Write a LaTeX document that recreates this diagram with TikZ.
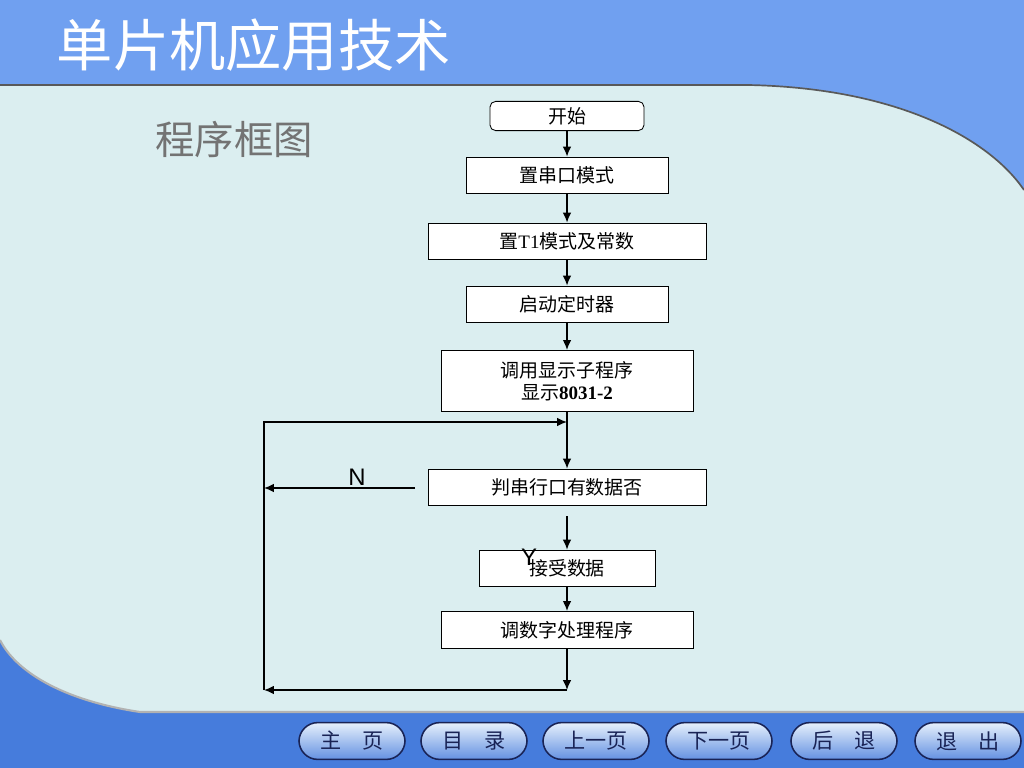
\documentclass[tikz,border=0pt]{standalone}
\usepackage{fontspec}
\setmainfont{Liberation Serif}
\setsansfont{Liberation Sans}
\newfontfamily\cjk{Noto Sans CJK SC}
\usetikzlibrary{arrows.meta, positioning}

\definecolor{topblue}{RGB}{112,160,240}
\definecolor{lowblue}{RGB}{70,124,220}
\definecolor{pagebg}{RGB}{219,238,240}
\definecolor{btnline}{RGB}{25,35,85}

\tikzset{
  flowbox/.style={draw, fill=white, line width=0.6pt, minimum height=0.9cm,
                  font=\fontsize{13.5}{16}\selectfont\cjk, align=center},
  arr/.style={-{Latex[length=7pt,width=6pt]}, line width=0.9pt},
  btn/.style={draw=btnline, line width=1.1pt, rounded corners=0.47cm,
              top color={rgb,255:red,230;green,240;blue,252},
              bottom color={rgb,255:red,100;green,145;blue,225},
              minimum width=2.65cm, minimum height=0.92cm,
              font=\fontsize{15}{18}\selectfont\cjk, text=btnline},
  yn/.style={font=\fontsize{17}{20}\selectfont\sffamily}
}

\begin{document}
\begin{tikzpicture}[x=0.025cm, y=-0.025cm]
  \useasboundingbox (0,0) rectangle (1024,768);

  % background of the slide
  \fill[lowblue] (0,0) rectangle (1024,768);
  \fill[topblue] (0,0) rectangle (1024,200);
  \fill[pagebg] (0,85) -- (748,85) .. controls (900,88) and (990,140) .. (1024,190)
      -- (1024,712) -- (140,712) .. controls (60,700) and (15,670) .. (0,640) -- cycle;
  \draw[gray!70!black, line width=1.2pt] (0,85) -- (748,85)
      .. controls (900,88) and (990,140) .. (1024,190);
  \draw[gray!60, line width=1.5pt] (0,640) .. controls (15,670) and (60,700) .. (140,712) -- (1024,712);

  \node[white, font=\fontsize{40}{44}\selectfont\cjk, anchor=west] (title) at (52,45) {单片机应用技术};
  \node[black!55, font=\fontsize{28}{32}\selectfont\cjk] (sub) at (234,139) {程序框图};

  % flow chart
  \node[flowbox, rounded corners=4pt, minimum width=3.85cm, minimum height=0.73cm] (start) at (567,116) {开始};
  \node[flowbox, minimum width=5.05cm] (uart) at (567,175) {置串口模式};
  \node[flowbox, minimum width=6.95cm] (tone) at (567,241) {置{\rmfamily T1}模式及常数};
  \node[flowbox, minimum width=5.05cm] (run) at (567,304) {启动定时器};
  \node[flowbox, minimum width=6.3cm, minimum height=1.53cm] (disp) at (567,381)
      {调用显示子程序\\显示{\rmfamily\bfseries 8031-2}};
  \node[flowbox, minimum width=6.95cm] (check) at (567,487) {判串行口有数据否};
  \node[flowbox, minimum width=4.4cm] (recv) at (567,568) {接受数据};
  \node[flowbox, minimum width=6.3cm, minimum height=0.93cm] (proc) at (567,630) {调数字处理程序};

  \coordinate (loopTL) at (264,422);
  \coordinate (loopBL) at (264,690);
  \coordinate (join) at (567,422);
  \coordinate (back) at (567,690);
  \coordinate (nFrom) at (415,488);
  \coordinate (nTo) at (264,488);
  \coordinate (yFrom) at (567,516);

  \draw[arr] (start) -- (uart);
  \draw[arr] (uart) -- (tone);
  \draw[arr] (tone) -- (run);
  \draw[arr] (run) -- (disp);
  \draw[arr] (disp) -- (check);
  \draw[arr] (yFrom) -- (recv);
  \draw[arr] (recv) -- (proc);
  \draw[arr] (proc) -- (back);
  \draw[arr] (back) -- (loopBL);
  \draw[arr] (loopBL) -- (loopTL) -- (join);
  \draw[arr] (nFrom) -- (nTo);

  \node[yn] (nlab) at (357,477) {N};
  \node[yn] (ylab) at (529,557) {Y};

  % navigation buttons
  \node[btn] (home) at (352,741) {主\hspace{1em}页};
  \node[btn] (menu) at (474,741) {目\hspace{1em}录};
  \node[btn] (prev) at (596,741) {上一页};
  \node[btn] (next) at (719,741) {下一页};
  \node[btn] (backb) at (844,741) {后\hspace{1em}退};
  \node[btn] (quit) at (968,741) {退\hspace{1em}出};
\end{tikzpicture}
\end{document}
